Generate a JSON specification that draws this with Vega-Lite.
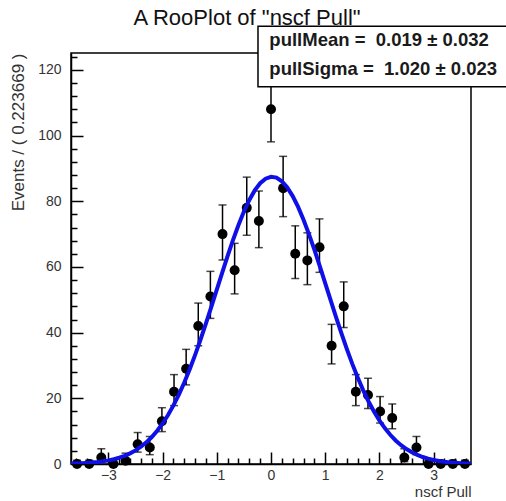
{
  "$schema": "https://vega.github.io/schema/vega-lite/v6.json",
  "autosize": {"type": "none"},
  "width": 400,
  "height": 411,
  "padding": {"left": 71, "top": 53, "right": 35, "bottom": 37},
  "background": "white",
  "config": {
    "font": "Liberation Sans",
    "view": {"stroke": "black", "strokeWidth": 1.5}
  },
  "title": {
    "text": "A RooPlot of \"nscf Pull\"",
    "fontSize": 22,
    "fontWeight": "normal",
    "color": "#111",
    "font": "Liberation Sans",
    "anchor": "middle",
    "dx": -24,
    "offset": -5
  },
  "datasets": {
    "points": [
      {"x": -3.5788, "n": 0, "lo": 0, "hi": 1.15},
      {"x": -3.3551, "n": 0, "lo": 0, "hi": 1.15},
      {"x": -3.1314, "n": 2, "lo": 0.71, "hi": 4.64},
      {"x": -2.9078, "n": 0, "lo": 0, "hi": 1.15},
      {"x": -2.6841, "n": 1, "lo": 0.17, "hi": 3.3},
      {"x": -2.4604, "n": 6, "lo": 3.62, "hi": 9.58},
      {"x": -2.2368, "n": 5, "lo": 2.84, "hi": 8.38},
      {"x": -2.0131, "n": 13, "lo": 9.86, "hi": 17.14},
      {"x": -1.7894, "n": 22, "lo": 17.78, "hi": 27.22},
      {"x": -1.5658, "n": 29, "lo": 24.09, "hi": 34.91},
      {"x": -1.3421, "n": 42, "lo": 36.0, "hi": 49.0},
      {"x": -1.1184, "n": 51, "lo": 44.34, "hi": 58.66},
      {"x": -0.8947, "n": 70, "lo": 62.12, "hi": 78.88},
      {"x": -0.6711, "n": 59, "lo": 51.8, "hi": 67.2},
      {"x": -0.4474, "n": 78, "lo": 69.65, "hi": 87.35},
      {"x": -0.2237, "n": 74, "lo": 65.88, "hi": 83.12},
      {"x": 0.0, "n": 108, "lo": 98.1, "hi": 118.9},
      {"x": 0.2237, "n": 84, "lo": 75.32, "hi": 93.68},
      {"x": 0.4474, "n": 64, "lo": 56.48, "hi": 72.52},
      {"x": 0.6711, "n": 62, "lo": 54.61, "hi": 70.39},
      {"x": 0.8947, "n": 66, "lo": 58.36, "hi": 74.64},
      {"x": 1.1184, "n": 36, "lo": 30.48, "hi": 42.52},
      {"x": 1.3421, "n": 48, "lo": 41.55, "hi": 55.45},
      {"x": 1.5658, "n": 22, "lo": 17.78, "hi": 27.22},
      {"x": 1.7894, "n": 21, "lo": 16.89, "hi": 26.11},
      {"x": 2.0131, "n": 16, "lo": 12.47, "hi": 20.53},
      {"x": 2.2368, "n": 14, "lo": 10.73, "hi": 18.28},
      {"x": 2.4604, "n": 2, "lo": 0.71, "hi": 4.64},
      {"x": 2.6841, "n": 5, "lo": 2.84, "hi": 8.38},
      {"x": 2.9078, "n": 0, "lo": 0, "hi": 1.15},
      {"x": 3.1314, "n": 0, "lo": 0, "hi": 1.15},
      {"x": 3.3551, "n": 0, "lo": 0, "hi": 1.15},
      {"x": 3.5788, "n": 0, "lo": 0, "hi": 1.15}
    ],
    "curve": [
      {"x": -3.69, "y": 0.118}, {"x": -3.6, "y": 0.162}, {"x": -3.5, "y": 0.228}, {"x": -3.4, "y": 0.318},
      {"x": -3.3, "y": 0.439}, {"x": -3.2, "y": 0.601}, {"x": -3.1, "y": 0.816}, {"x": -3.0, "y": 1.095},
      {"x": -2.9, "y": 1.457}, {"x": -2.8, "y": 1.919}, {"x": -2.7, "y": 2.504}, {"x": -2.6, "y": 3.237},
      {"x": -2.5, "y": 4.147}, {"x": -2.4, "y": 5.256}, {"x": -2.3, "y": 6.598}, {"x": -2.2, "y": 8.211},
      {"x": -2.1, "y": 10.11}, {"x": -2.0, "y": 12.34}, {"x": -1.9, "y": 14.9}, {"x": -1.8, "y": 17.84},
      {"x": -1.7, "y": 21.14}, {"x": -1.6, "y": 24.82}, {"x": -1.5, "y": 28.86}, {"x": -1.4, "y": 33.24},
      {"x": -1.3, "y": 37.92}, {"x": -1.2, "y": 42.83}, {"x": -1.1, "y": 47.92}, {"x": -1.0, "y": 53.12},
      {"x": -0.9, "y": 58.3}, {"x": -0.8, "y": 63.37}, {"x": -0.7, "y": 68.23}, {"x": -0.6, "y": 72.77},
      {"x": -0.5, "y": 76.86}, {"x": -0.4, "y": 80.4}, {"x": -0.3, "y": 83.31}, {"x": -0.2, "y": 85.49},
      {"x": -0.1, "y": 86.89}, {"x": 0.0, "y": 87.46}, {"x": 0.1, "y": 87.2}, {"x": 0.2, "y": 86.11},
      {"x": 0.3, "y": 84.23}, {"x": 0.4, "y": 81.58}, {"x": 0.5, "y": 78.28}, {"x": 0.6, "y": 74.38},
      {"x": 0.7, "y": 70.0}, {"x": 0.8, "y": 65.25}, {"x": 0.9, "y": 60.25}, {"x": 1.0, "y": 55.09},
      {"x": 1.1, "y": 49.89}, {"x": 1.2, "y": 44.75}, {"x": 1.3, "y": 39.76}, {"x": 1.4, "y": 34.98},
      {"x": 1.5, "y": 30.49}, {"x": 1.6, "y": 26.31}, {"x": 1.7, "y": 22.5}, {"x": 1.8, "y": 19.04},
      {"x": 1.9, "y": 15.97}, {"x": 2.0, "y": 13.27}, {"x": 2.1, "y": 10.92}, {"x": 2.2, "y": 8.897},
      {"x": 2.3, "y": 7.177}, {"x": 2.4, "y": 5.738}, {"x": 2.5, "y": 4.541}, {"x": 2.6, "y": 3.561},
      {"x": 2.7, "y": 2.765}, {"x": 2.8, "y": 2.126}, {"x": 2.9, "y": 1.619}, {"x": 3.0, "y": 1.222},
      {"x": 3.1, "y": 0.913}, {"x": 3.2, "y": 0.676}, {"x": 3.3, "y": 0.495}, {"x": 3.4, "y": 0.36},
      {"x": 3.5, "y": 0.259}, {"x": 3.6, "y": 0.184}, {"x": 3.69, "y": 0.135}
    ],
    "stats": [{"label": "stats"}]
  },
  "encoding": {
    "x": {
      "type": "quantitative",
      "scale": {"domain": [-3.6906, 3.6906], "nice": false, "zero": false},
      "axis": {
        "title": "nscf Pull",
        "titleAnchor": "end",
        "titleFontSize": 15,
        "titleFontWeight": "normal",
        "titleColor": "#333",
        "titlePadding": -4,
        "values": [-3.6, -3.4, -3.2, -3, -2.8, -2.6, -2.4, -2.2, -2, -1.8, -1.6, -1.4, -1.2, -1, -0.8, -0.6, -0.4, -0.2, 0, 0.2, 0.4, 0.6, 0.8, 1, 1.2, 1.4, 1.6, 1.8, 2, 2.2, 2.4, 2.6, 2.8, 3, 3.2, 3.4, 3.6],
        "labelExpr": "abs(datum.value - round(datum.value)) < 0.01 ? format(round(datum.value), 'd') : ''",
        "labelOverlap": false,
        "labelFlush": false,
        "labelFontSize": 14,
        "labelColor": "#333",
        "labelPadding": 16,
        "tickSize": {"condition": {"test": "abs(datum.value - round(datum.value)) < 0.01", "value": -12}, "value": -6},
        "tickColor": "black",
        "tickWidth": 1.5,
        "domainColor": "black",
        "domainWidth": 1.5,
        "grid": false
      }
    },
    "y": {
      "type": "quantitative",
      "scale": {"domain": [0, 125.15], "nice": false, "zero": true},
      "axis": {
        "title": "Events / ( 0.223669 )",
        "titleAnchor": "end",
        "titleFontSize": 17,
        "titleFontWeight": "normal",
        "titleColor": "#333",
        "titlePadding": 10,
        "values": [0, 4, 8, 12, 16, 20, 24, 28, 32, 36, 40, 44, 48, 52, 56, 60, 64, 68, 72, 76, 80, 84, 88, 92, 96, 100, 104, 108, 112, 116, 120, 124],
        "labelExpr": "datum.value % 20 === 0 ? datum.label : ''",
        "labelOverlap": false,
        "labelFlush": false,
        "labelFontSize": 14,
        "labelColor": "#333",
        "labelPadding": 22,
        "tickSize": {"condition": {"test": "datum.value % 20 === 0", "value": -12}, "value": -6},
        "tickColor": "black",
        "tickWidth": 1.5,
        "domainColor": "black",
        "domainWidth": 1.5,
        "grid": false
      }
    }
  },
  "layer": [
    {
      "data": {"name": "points"},
      "mark": {"type": "rule", "color": "black", "strokeWidth": 1.5},
      "encoding": {"x": {"field": "x"}, "y": {"field": "lo"}, "y2": {"field": "hi"}}
    },
    {
      "data": {"name": "points"},
      "mark": {"type": "tick", "orient": "horizontal", "color": "black", "size": 8, "thickness": 1.5},
      "encoding": {"x": {"field": "x"}, "y": {"field": "lo"}}
    },
    {
      "data": {"name": "points"},
      "mark": {"type": "tick", "orient": "horizontal", "color": "black", "size": 8, "thickness": 1.5},
      "encoding": {"x": {"field": "x"}, "y": {"field": "hi"}}
    },
    {
      "data": {"name": "points"},
      "mark": {"type": "circle", "color": "black", "opacity": 1, "size": 100},
      "encoding": {"x": {"field": "x"}, "y": {"field": "n"}}
    },
    {
      "data": {"name": "curve"},
      "mark": {"type": "line", "color": "#0f0fe8", "strokeWidth": 4, "clip": true},
      "encoding": {"x": {"field": "x"}, "y": {"field": "y"}}
    },
    {
      "data": {"name": "stats"},
      "mark": {"type": "rect", "fill": "white", "stroke": "black", "strokeWidth": 1.5, "clip": false},
      "encoding": {
        "x": {"datum": -0.24},
        "x2": {"datum": 4.5},
        "y": {"datum": 133.3},
        "y2": {"datum": 114.86}
      }
    },
    {
      "data": {"name": "stats"},
      "mark": {"type": "text", "align": "left", "baseline": "alphabetic", "fontSize": 18.5, "fontWeight": "bold", "color": "#1a1a1a", "clip": false},
      "encoding": {
        "x": {"datum": -0.03},
        "y": {"datum": 127.2},
        "text": {"value": "pullMean =\u00a0\u00a00.019 \u00b1 0.032"}
      }
    },
    {
      "data": {"name": "stats"},
      "mark": {"type": "text", "align": "left", "baseline": "alphabetic", "fontSize": 18.5, "fontWeight": "bold", "color": "#1a1a1a", "clip": false},
      "encoding": {
        "x": {"datum": -0.03},
        "y": {"datum": 118.3},
        "text": {"value": "pullSigma =\u00a0\u00a01.020 \u00b1 0.023"}
      }
    }
  ]
}
